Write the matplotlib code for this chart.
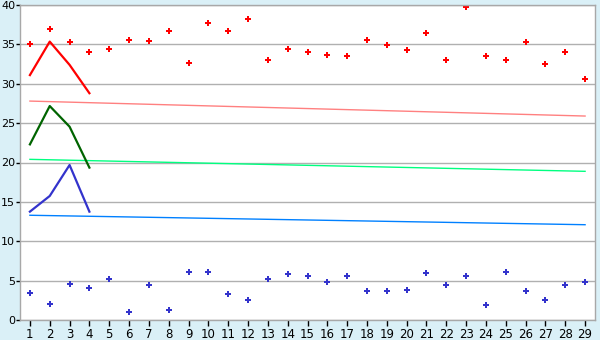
import matplotlib.pyplot as plt
import numpy as np

# categories on the x axis
days = list(range(1, 30))

# scatter series
high_pts = [35.0, 37.0, 35.25, 34.0, 34.4, 35.5, 35.4, 36.65, 32.6, 37.7,
            36.65, 38.2, 33.0, 34.4, 34.0, 33.6, 33.5, 35.5, 34.9, 34.25,
            36.5, 33.0, 39.7, 33.5, 33.0, 35.25, 32.5, 34.0, 30.55]
low_pts = [3.38, 1.99, 4.53, 4.02, 5.16, 0.97, 4.4, 1.23, 6.05, 6.05,
           3.26, 2.5, 5.16, 5.8, 5.55, 4.78, 5.55, 3.64, 3.64, 3.77,
           5.93, 4.4, 5.55, 1.86, 6.05, 3.64, 2.5, 4.4, 4.78]

# short line series (first four days)
line_days = [1, 2, 3, 4]
red_line = [31.1, 35.35, 32.4, 28.8]
green_line = [22.3, 27.17, 24.55, 19.35]
blue_line = [13.76, 15.75, 19.68, 13.76]

# trend lines: value at first and last day
trend_days = [1, 29]
red_trend = [27.8, 25.9]
green_trend = [20.4, 18.88]
blue_trend = [13.3, 12.1]

bg = '#daf0f7'
fig = plt.figure(figsize=(6, 3.4), dpi=100, facecolor=bg)
ax = fig.add_axes([20 / 600, 20 / 340, 575 / 600, 315 / 340])
ax.set_facecolor('white')

ax.set_xlim(0.5, 29.5)
ax.set_ylim(0, 40)
ax.set_yticks(np.arange(0, 41, 5))
ax.set_xticks(days)
ax.yaxis.grid(True, color='#b0b0b0', linewidth=1)
ax.set_axisbelow(True)

for s in ax.spines.values():
    s.set_color('#a8a8a8')
    s.set_linewidth(1)

ax.tick_params(axis='x', colors='black', labelsize=8.5, length=4, width=1, pad=2)
ax.tick_params(axis='y', colors='black', labelsize=8, length=3, width=1, pad=0.5)

# trends
ax.plot(trend_days, red_trend, color='#ff8080', lw=1)
ax.plot(trend_days, green_trend, color='#00ff80', lw=1)
ax.plot(trend_days, blue_trend, color='#0080ff', lw=1)

# lines
ax.plot(line_days, red_line, color='#ff0000', lw=1.6)
ax.plot(line_days, green_line, color='#006400', lw=1.6)
ax.plot(line_days, blue_line, color='#3333cc', lw=1.6)

# points
ax.plot(days, high_pts, 'P', ms=5, color='#ff0000', mew=0, ls='none')
ax.plot(days, low_pts, 'P', ms=5, color='#3333cc', mew=0, ls='none')

fig.savefig('out.png', dpi=100, facecolor=bg)
